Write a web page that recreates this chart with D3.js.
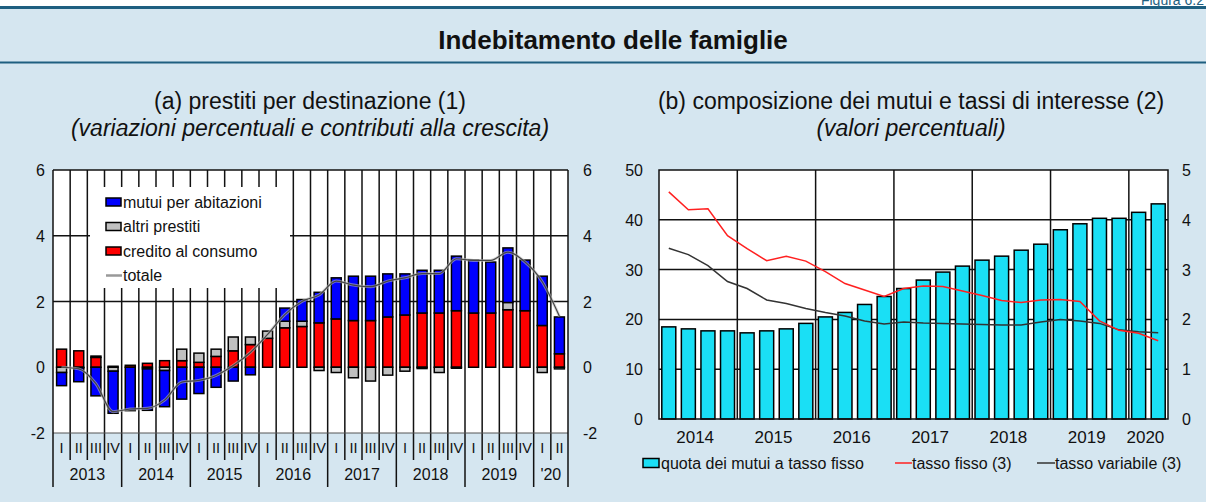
<!DOCTYPE html>
<html><head><meta charset="utf-8">
<script src="https://cdn.jsdelivr.net/npm/d3@7"></script>
<style>
body{margin:0;background:#fff;}
svg{display:block;}
text{font-family:"Liberation Sans",Arial,sans-serif;fill:#111;}
</style>
</head><body>
<svg id="c" width="1206" height="502"></svg>
<script>
// ---------- Panel (a): prestiti per destinazione ----------
const yearsA = ["2013","2014","2015","2016","2017","2018","2019","'20"];
const quarterNames = ["I","II","III","IV"];
const quartersA = [];
yearsA.forEach((y,i)=>{ const n = (i===yearsA.length-1)?2:4; for(let q=0;q<n;q++) quartersA.push(y+"-"+quarterNames[q]); });
const mutui =   [-0.40,-0.42,-0.87,-1.28,-1.32,-1.26,-1.10,-0.97,-0.80,-0.61,-0.42,-0.23,0.00,0.40,0.66,0.93,1.25,1.35,1.35,1.31,1.25,1.30,1.30,1.66,1.61,1.55,1.66,1.54,1.50,1.12];
const altri =   [-0.16,-0.02,0.04,-0.12,0.00,-0.05,-0.10,0.35,0.28,0.22,0.42,0.23,0.22,0.20,0.16,-0.10,-0.16,-0.32,-0.42,-0.24,-0.12,-0.04,-0.16,-0.03,0.00,0.00,0.22,0.00,-0.16,-0.05];
const credito = [0.55,0.50,0.30,0.03,0.06,0.12,0.20,0.20,0.15,0.33,0.50,0.69,0.88,1.20,1.24,1.35,1.47,1.42,1.42,1.53,1.59,1.65,1.65,1.72,1.65,1.65,1.75,1.72,1.27,0.41];
const totale =  [0.00,-0.05,-0.50,-1.35,-1.27,-1.25,-1.00,-0.45,-0.40,-0.25,0.05,0.45,1.00,1.60,2.00,2.20,2.62,2.50,2.45,2.62,2.72,2.85,2.85,3.30,3.25,3.25,3.50,3.20,2.60,1.55];
const ticksA = [-2,0,2,4,6];
const seriesA = [
  {key:"credito", label:"credito al consumo", color:"#ff0000"},
  {key:"altri", label:"altri prestiti", color:"#c0c0c0"},
  {key:"mutui", label:"mutui per abitazioni", color:"#0000ff"}
];

// ---------- Panel (b): composizione dei mutui ----------
const yearsB = ["2014","2015","2016","2017","2018","2019","2020"];
const quartersB = [];
yearsB.forEach((y,i)=>{ const n = (i===yearsB.length-1)?2:4; for(let q=0;q<n;q++) quartersB.push(y+"-"+quarterNames[q]); });
const quotaFisso = [18.5,18.1,17.7,17.7,17.3,17.7,18.1,19.2,20.5,21.4,23.0,24.6,26.2,27.9,29.5,30.7,31.9,32.7,33.9,35.1,38.0,39.2,40.3,40.3,41.5,43.2];
const tassoFisso = [4.56,4.20,4.22,3.68,3.42,3.18,3.27,3.17,2.96,2.72,2.59,2.46,2.62,2.67,2.66,2.57,2.48,2.38,2.34,2.39,2.40,2.36,1.97,1.78,1.72,1.57];
const tassoVariabile = [3.43,3.30,3.08,2.76,2.62,2.39,2.32,2.22,2.14,2.07,1.97,1.91,1.95,1.93,1.92,1.91,1.90,1.89,1.89,1.95,2.00,1.97,1.92,1.79,1.75,1.73];
const ticksBLeft = [0,10,20,30,40,50];
const ticksBRight = [0,1,2,3,4,5];

const svg = d3.select("#c");
const W = 1206, H = 502;

// ---------- frame ----------
svg.append("rect").attr("x",0).attr("y",0).attr("width",W).attr("height",H).attr("fill","#fff");
svg.append("rect").attr("x",0).attr("y",8).attr("width",W).attr("height",H-8).attr("fill","#d5e6f0");
svg.append("line").attr("x1",0).attr("x2",W).attr("y1",7.5).attr("y2",7.5).attr("stroke","#1e5f80").attr("stroke-width",3);
svg.append("line").attr("x1",0).attr("x2",W).attr("y1",62.5).attr("y2",62.5).attr("stroke","#1e5f80").attr("stroke-width",2);
svg.append("text").attr("x",1204).attr("y",5).attr("text-anchor","end").attr("font-size",14).style("fill","#1e5f80").text("Figura 6.2");
svg.append("text").attr("x",613).attr("y",49).attr("text-anchor","middle").attr("font-size",26).attr("font-weight","bold").text("Indebitamento delle famiglie");

svg.append("text").attr("x",310).attr("y",109).attr("text-anchor","middle").attr("font-size",23).text("(a) prestiti per destinazione (1)");
svg.append("text").attr("x",310).attr("y",136).attr("text-anchor","middle").attr("font-size",23).attr("font-style","italic").text("(variazioni percentuali e contributi alla crescita)");
svg.append("text").attr("x",911).attr("y",109).attr("text-anchor","middle").attr("font-size",23).text("(b) composizione dei mutui e tassi di interesse (2)");
svg.append("text").attr("x",911).attr("y",136).attr("text-anchor","middle").attr("font-size",23).attr("font-style","italic").text("(valori percentuali)");

// ---------- panel A ----------
(function(){
  const L=53, R=568, T=170, B=433;
  const x = d3.scaleBand().domain(quartersA).range([L,R]).paddingInner(0.42).paddingOuter(0.21);
  const y = d3.scaleLinear().domain([-2,6]).range([B,T]);
  const g = svg.append("g");
  g.append("rect").attr("x",L).attr("y",T).attr("width",R-L).attr("height",B-T).attr("fill","#fff");
  const gap = (x.step()-x.bandwidth())/2;
  g.selectAll(".hg").data([2,4]).join("line").attr("x1",L).attr("x2",R).attr("y1",d=>y(d)).attr("y2",d=>y(d)).attr("stroke","#111").attr("stroke-width",1.5);
  quartersA.forEach((q,i)=>{
    if(i===0) return;
    const bx = x(q)-gap;
    const isYear = q.endsWith("-I");
    g.append("line").attr("x1",bx).attr("x2",bx).attr("y1",T).attr("y2",isYear?487:460).attr("stroke","#111").attr("stroke-width",1.5);
  });
  const lg = g.append("g");
  lg.append("rect").attr("x",90).attr("y",187).attr("width",200).attr("height",101).attr("fill","#fff");
  const legItems = [seriesA[2],seriesA[1],seriesA[0]];
  legItems.forEach((s,i)=>{
    const yy = 202 + i*24.5;
    lg.append("rect").attr("x",106).attr("y",yy-4).attr("width",15).attr("height",8).attr("fill",s.color).attr("stroke","#000").attr("stroke-width",1.5);
    lg.append("text").attr("x",123).attr("y",yy+5.5).attr("font-size",16).text(s.label);
  });
  const yyT = 202 + 3*24.5;
  lg.append("line").attr("x1",106).attr("x2",122).attr("y1",yyT).attr("y2",yyT).attr("stroke","#999").attr("stroke-width",2.5);
  lg.append("text").attr("x",123).attr("y",yyT+5.5).attr("font-size",16).text("totale");

  const rows = quartersA.map((q,i)=>({q, mutui:mutui[i], altri:altri[i], credito:credito[i]}));
  const stack = d3.stack().keys(seriesA.map(s=>s.key)).offset(d3.stackOffsetDiverging)(rows);
  stack.forEach((layer,li)=>{
    g.selectAll(".b"+li).data(layer.filter(d=>Math.abs(d[1]-d[0])>0.001)).join("rect")
      .attr("x",d=>x(d.data.q)).attr("width",x.bandwidth())
      .attr("y",d=>y(Math.max(d[0],d[1]))).attr("height",d=>Math.abs(y(d[0])-y(d[1])))
      .attr("fill",seriesA[li].color).attr("stroke","#000").attr("stroke-width",1.5);
  });
  const line = d3.line().x((d,i)=>x(quartersA[i])+x.bandwidth()/2).y(d=>y(d)).curve(d3.curveMonotoneX);
  g.append("path").attr("d",line(totale)).attr("fill","none").attr("stroke","#bbb").attr("stroke-width",3).attr("opacity",0.6);
  g.append("path").attr("d",line(totale)).attr("fill","none").attr("stroke","#444").attr("stroke-width",1.2);
  g.append("line").attr("x1",L).attr("x2",R).attr("y1",T).attr("y2",T).attr("stroke","#111").attr("stroke-width",1.5);
  g.append("line").attr("x1",L).attr("x2",R).attr("y1",B).attr("y2",B).attr("stroke","#555").attr("stroke-width",1);
  g.append("line").attr("x1",L).attr("x2",L).attr("y1",T).attr("y2",487).attr("stroke","#111").attr("stroke-width",1.5);
  g.append("line").attr("x1",R).attr("x2",R).attr("y1",T).attr("y2",487).attr("stroke","#111").attr("stroke-width",1.5);
  ticksA.forEach(t=>{
    g.append("text").attr("x",45).attr("y",y(t)+6).attr("text-anchor","end").attr("font-size",16).text(t);
    g.append("text").attr("x",583).attr("y",y(t)+6).attr("text-anchor","start").attr("font-size",16).text(t);
  });
  quartersA.forEach(q=>{
    g.append("text").attr("x",x(q)+x.bandwidth()/2).attr("y",453).attr("text-anchor","middle").attr("font-size",14.5).text(q.split("-")[1]);
  });
  yearsA.forEach(yr=>{
    const qs = quartersA.filter(q=>q.startsWith(yr+"-"));
    const x0 = x(qs[0])-gap, x1 = x(qs[qs.length-1])+x.bandwidth()+gap;
    g.append("text").attr("x",(x0+x1)/2).attr("y",480).attr("text-anchor","middle").attr("font-size",16).text(yr);
  });
})();

// ---------- panel B ----------
(function(){
  const L=659, R=1168, T=170, B=419;
  const x = d3.scaleBand().domain(quartersB).range([L,R]).paddingInner(0.285).paddingOuter(0.1425);
  const yL = d3.scaleLinear().domain([0,50]).range([B,T]);
  const yR = d3.scaleLinear().domain([0,5]).range([B,T]);
  const g = svg.append("g");
  g.append("rect").attr("x",L).attr("y",T).attr("width",R-L).attr("height",B-T).attr("fill","#fff");
  const gap = (x.step()-x.bandwidth())/2;
  g.selectAll(".hg").data([10,20,30,40]).join("line").attr("x1",L).attr("x2",R).attr("y1",d=>yL(d)).attr("y2",d=>yL(d)).attr("stroke","#111").attr("stroke-width",1.5);
  quartersB.forEach((q,i)=>{
    if(i===0 || !q.endsWith("-I")) return;
    const bx = x(q)-gap;
    g.append("line").attr("x1",bx).attr("x2",bx).attr("y1",T).attr("y2",B).attr("stroke","#111").attr("stroke-width",1.5);
  });
  g.selectAll(".bar").data(quotaFisso).join("rect")
    .attr("x",(d,i)=>x(quartersB[i])).attr("width",x.bandwidth())
    .attr("y",d=>yL(d)).attr("height",d=>B-yL(d))
    .attr("fill","#1adff5").attr("stroke","#000").attr("stroke-width",1.5);
  const cx = i=>x(quartersB[i])+x.bandwidth()/2;
  const line = d3.line().x((d,i)=>cx(i)).y(d=>yR(d));
  g.append("path").attr("d",line(tassoVariabile)).attr("fill","none").attr("stroke","#333").attr("stroke-width",1.5);
  g.append("path").attr("d",line(tassoFisso)).attr("fill","none").attr("stroke","#ff2020").attr("stroke-width",1.5);
  g.append("rect").attr("x",L).attr("y",T).attr("width",R-L).attr("height",B-T).attr("fill","none").attr("stroke","#111").attr("stroke-width",1.5);
  ticksBLeft.forEach(t=>{
    g.append("text").attr("x",643).attr("y",yL(t)+6).attr("text-anchor","end").attr("font-size",16).text(t);
  });
  ticksBRight.forEach(t=>{
    g.append("text").attr("x",1182).attr("y",yR(t)+6).attr("text-anchor","start").attr("font-size",16).text(t);
  });
  yearsB.forEach(yr=>{
    const qs = quartersB.filter(q=>q.startsWith(yr+"-"));
    const x0 = x(qs[0])-gap, x1 = x(qs[qs.length-1])+x.bandwidth()+gap;
    g.append("text").attr("x",(x0+x1)/2-3).attr("y",443).attr("text-anchor","middle").attr("font-size",17).text(yr);
  });
  const ly = 463;
  g.append("rect").attr("x",643).attr("y",ly-4.5).attr("width",16).attr("height",9).attr("fill","#1adff5").attr("stroke","#000").attr("stroke-width",1.5);
  g.append("text").attr("x",661).attr("y",ly+6).attr("font-size",16).text("quota dei mutui a tasso fisso");
  g.append("line").attr("x1",895).attr("x2",912).attr("y1",ly).attr("y2",ly).attr("stroke","#ff2020").attr("stroke-width",1.5);
  g.append("text").attr("x",912).attr("y",ly+6).attr("font-size",16).text("tasso fisso (3)");
  g.append("line").attr("x1",1037).attr("x2",1055).attr("y1",ly).attr("y2",ly).attr("stroke","#333").attr("stroke-width",1.5);
  g.append("text").attr("x",1055).attr("y",ly+6).attr("font-size",16).text("tasso variabile (3)");
})();
</script>
</body></html>
